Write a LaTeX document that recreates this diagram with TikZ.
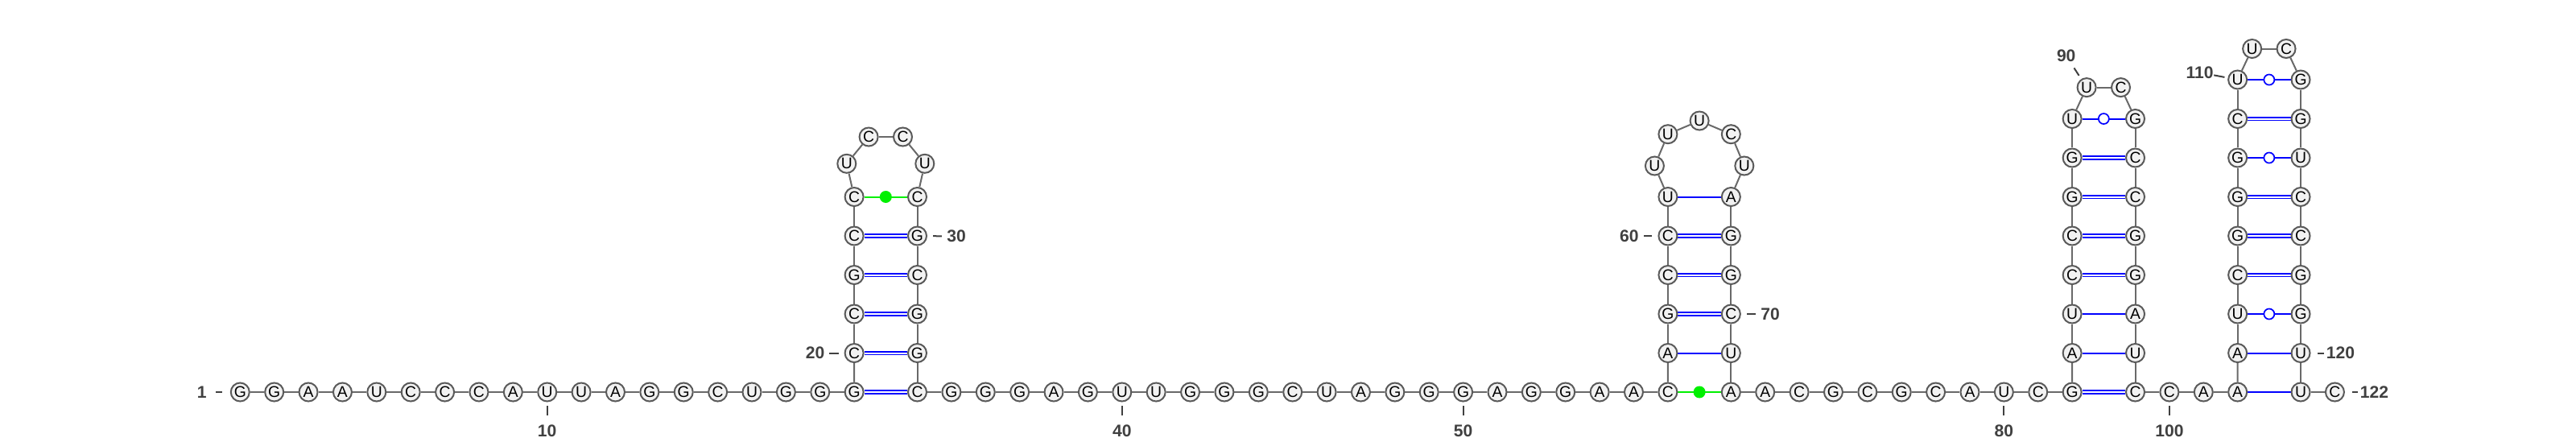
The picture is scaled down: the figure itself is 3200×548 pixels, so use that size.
\documentclass[tikz,border=0pt]{standalone}
\usepackage{fontspec}
\setmainfont{Liberation Sans}
\usetikzlibrary{backgrounds}

\definecolor{ntfill}{RGB}{242,242,242}
\definecolor{ntline}{RGB}{90,90,90}
\definecolor{bbline}{RGB}{105,105,105}
\definecolor{numcol}{RGB}{64,64,64}
\definecolor{pairblue}{RGB}{0,0,255}
\definecolor{pairgreen}{RGB}{0,240,0}

\tikzset{
  nt/.style = {circle, draw = ntline, fill = ntfill, line width = 0.02cm,
    minimum size = 0.23cm, inner sep = 0pt, font = \fontsize{5.5}{6}\selectfont},
  num/.style = {inner sep = 0pt, text = numcol, font = \fontsize{6}{7}\selectfont\bfseries},
  tick/.style 2 args = {draw = numcol, line width = 0.02cm, shorten <= #1, shorten >= #2},
  backbone/.style = {draw = bbline, line width = 0.02cm},
  wc/.style = {draw = pairblue, line width = 0.02cm},
  gc/.style = {draw = pairblue, double = white, line width = 0.019cm, double distance = 0.02cm},
  gu/.style = {circle, draw = pairblue, fill = white, line width = 0.017cm,
    minimum size = 0.13cm, inner sep = 0pt},
  nc/.style = {draw = pairgreen, line width = 0.02cm},
  ncdot/.style = {circle, fill = pairgreen, minimum size = 0.15cm, inner sep = 0pt}
}

\begin{document}
\begin{tikzpicture}[x = 0.01cm, y = -0.01cm]
  \useasboundingbox (0, 0) rectangle (3200, 548);

  \foreach \b [count=\k] in {G,G,A,A,U,C,C,C,A,U,U,A,G,G,C,U,G,G,G}
    \node[nt] (n\k) at ({298.3 + 42.38*(\k - 1)}, 487) {\b};
  \foreach \b [count=\k from 20] in {C,C,G,C,C}
    \node[nt] (n\k) at (1061.1, {487 - 48.5*(\k - 19)}) {\b};
  \foreach \b/\x/\y [count=\k from 25] in {U/1051.8/203.3, C/1079.1/170, C/1121.5/170, U/1148.8/203.3}
    \node[nt] (n\k) at (\x, \y) {\b};
  \foreach \b [count=\k from 29] in {C,G,C,G,G}
    \node[nt] (n\k) at (1139.5, {244.5 + 48.5*(\k - 29)}) {\b};
  \foreach \b [count=\k from 34] in {C,G,G,G,A,G,U,U,G,G,G,C,U,A,G,G,G,A,G,G,A,A,C}
    \node[nt] (n\k) at ({1139.5 + 42.38*(\k - 34)}, 487) {\b};

  \foreach \b [count=\k from 57] in {A,G,C,C,U}
    \node[nt] (n\k) at (2071.9, {487 - 48.5*(\k - 56)}) {\b};
  \foreach \b/\x/\y [count=\k from 62] in {U/2055.4/206, U/2071.9/166.7, U/2111.1/150, C/2150.3/166.7, U/2166.8/206}
    \node[nt] (n\k) at (\x, \y) {\b};
  \foreach \b [count=\k from 67] in {A,G,G,C,U}
    \node[nt] (n\k) at (2150.3, {244.5 + 48.5*(\k - 67)}) {\b};
  \foreach \b [count=\k from 72] in {A,A,C,G,C,G,C,A,U,C,G}
    \node[nt] (n\k) at ({2150.3 + 42.38*(\k - 72)}, 487) {\b};

  \foreach \b [count=\k from 83] in {A,U,C,C,G,G,U}
    \node[nt] (n\k) at (2574.1, {487 - 48.5*(\k - 82)}) {\b};
  \node[nt] (n90) at (2592.1, 108.6) {U};
  \node[nt] (n91) at (2634.5, 108.6) {C};
  \foreach \b [count=\k from 92] in {G,C,C,G,G,A,U}
    \node[nt] (n\k) at (2652.5, {147.5 + 48.5*(\k - 92)}) {\b};
  \foreach \b [count=\k from 99] in {C,C,A,A}
    \node[nt] (n\k) at ({2652.5 + 42.38*(\k - 99)}, 487) {\b};

  \foreach \b [count=\k from 103] in {A,U,C,G,G,G,C,U}
    \node[nt] (n\k) at (2779.6, {487 - 48.5*(\k - 102)}) {\b};
  \node[nt] (n111) at (2797.6, 60.5) {U};
  \node[nt] (n112) at (2840.0, 60.5) {C};
  \foreach \b [count=\k from 113] in {G,G,U,C,C,G,G,U,U}
    \node[nt] (n\k) at (2858, {99 + 48.5*(\k - 113)}) {\b};
  \node[nt] (n122) at (2900.4, 487) {C};

  \node[num] (l1) at (250.7, 487) {1};
  \node[num] (l10) at (n10 |- 0,535) {10};
  \node[num] (l20) at (1012.5, 438.5) {20};
  \node[num] (l30) at (1188, 293.5) {30};
  \node[num] (l40) at (n40 |- 0,535) {40};
  \node[num] (l50) at (n50 |- 0,535) {50};
  \node[num] (l60) at (2023.8, 293) {60};
  \node[num] (l70) at (2199, 390) {70};
  \node[num] (l80) at (n80 |- 0,535) {80};
  \node[num] (l90) at (2566.7, 69.3) {90};
  \node[num] (l100) at (n100 |- 0,535) {100};
  \node[num] (l110) at (2732.5, 90) {110};
  \node[num] (l120) at (2907.5, 438.5) {120};
  \node[num] (l122) at (2949.5, 487) {122};

  \begin{scope}[on background layer]
    \foreach \i in {1,...,121} {
      \pgfmathtruncatemacro\j{\i + 1}
      \draw[backbone] (n\i) -- (n\j);
    }
    \foreach \i/\j in {19/34, 20/33, 21/32, 22/31, 23/30, 58/70, 59/69, 60/68,
      82/99, 85/96, 86/95, 87/94, 88/93, 105/118, 106/117, 107/116, 109/114}
      \draw[gc] (n\i) -- (n\j);
    \foreach \i/\j in {57/71, 61/67, 83/98, 84/97, 102/121, 103/120}
      \draw[wc] (n\i) -- (n\j);
    \foreach \i/\j in {89/92, 104/119, 108/115, 110/113}
      \draw[wc] (n\i) -- (n\j) node[midway, gu] {};
    \foreach \i/\j in {24/29, 56/72}
      \draw[nc] (n\i) -- (n\j) node[midway, ncdot] {};
  \end{scope}

  \draw[tick = {0.1cm}{0.11cm}] (n1) -- (l1);
  \draw[tick = {0.048cm}{0.108cm}] (n10) -- (l10);
  \draw[tick = {0.068cm}{0.052cm}] (n20) -- (l20);
  \draw[tick = {0.072cm}{0.056cm}] (n30) -- (l30);
  \draw[tick = {0.048cm}{0.108cm}] (n40) -- (l40);
  \draw[tick = {0.048cm}{0.108cm}] (n50) -- (l50);
  \draw[tick = {0.071cm}{0.053cm}] (n60) -- (l60);
  \draw[tick = {0.072cm}{0.052cm}] (n70) -- (l70);
  \draw[tick = {0.048cm}{0.108cm}] (n80) -- (l80);
  \draw[tick = {0.05cm}{0.083cm}] (n90) -- (l90);
  \draw[tick = {0.048cm}{0.108cm}] (n100) -- (l100);
  \draw[tick = {0.04cm}{0cm}] (n110) -- (l110);
  \draw[tick = {0.087cm}{0.02cm}] (n120) -- (l120);
  \draw[tick = {0.094cm}{0.02cm}] (n122) -- (l122);
\end{tikzpicture}
\end{document}
